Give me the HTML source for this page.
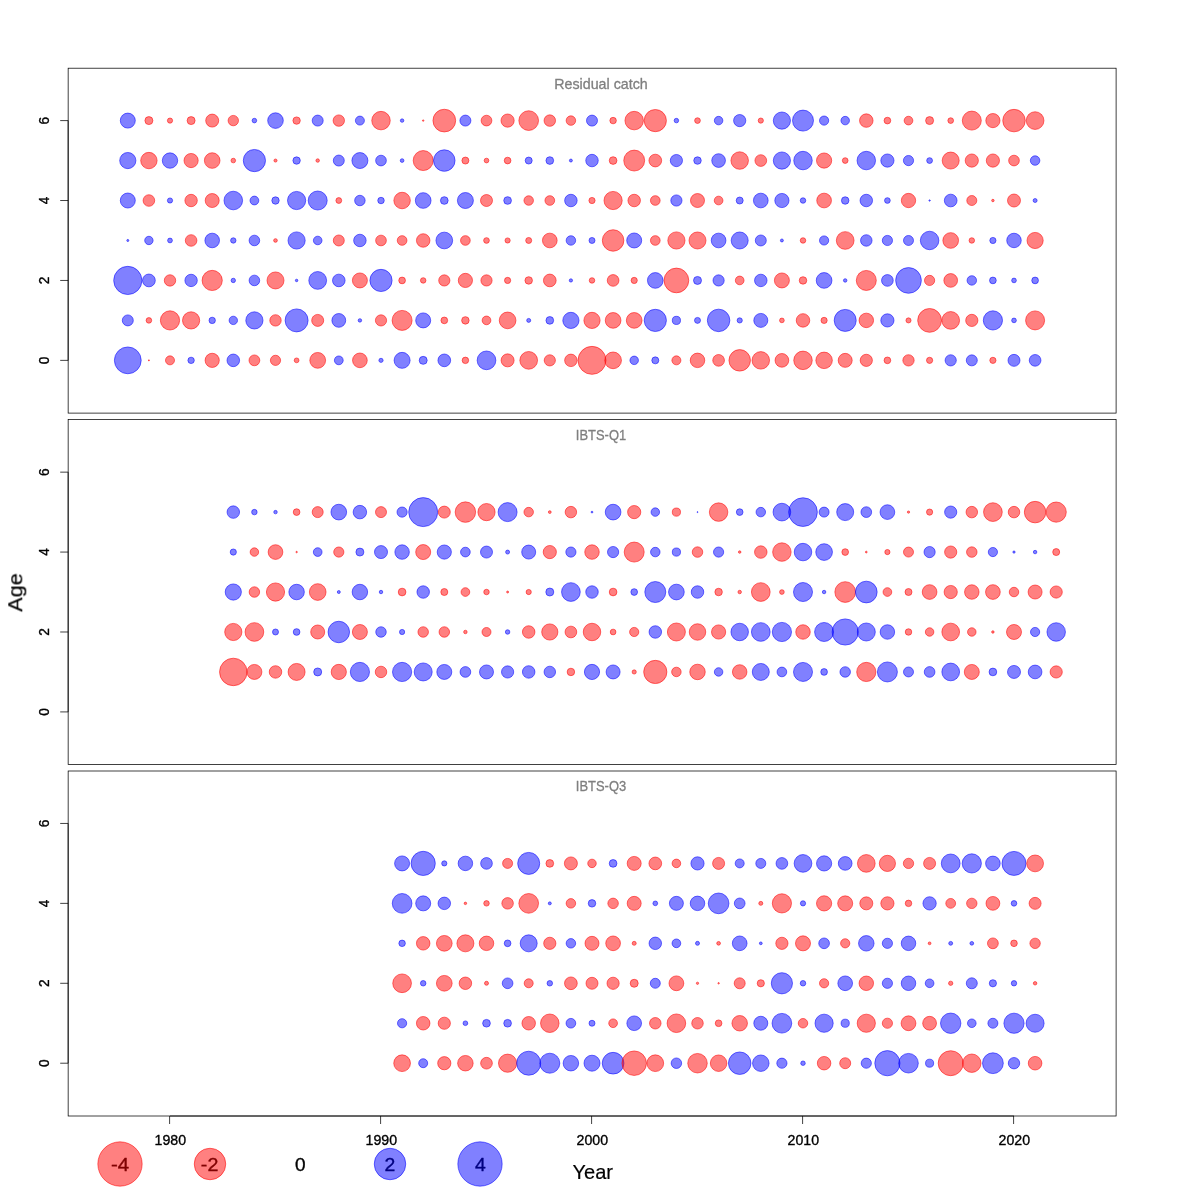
<!DOCTYPE html>
<html><head><meta charset="utf-8"><title>Residuals</title>
<style>
html,body{margin:0;padding:0;background:#fff;}
svg{display:block;}
text{font-family:"Liberation Sans",sans-serif;stroke-linejoin:round;}
.t{stroke:#000;stroke-width:0.35;}
.r{fill:rgba(255,0,0,0.5);stroke:rgba(255,0,0,0.55);stroke-width:1;}
.b{fill:rgba(0,0,255,0.5);stroke:rgba(0,0,255,0.55);stroke-width:1;}
.l{stroke:#000;stroke-width:0.75;fill:none;}
</style></head><body>
<svg width="1200" height="1200" viewBox="0 0 1200 1200">
<rect width="1200" height="1200" fill="#fff"/>
<g opacity="0.999">
<g>
<rect class="l" x="68.15" y="68.2" width="1047.95" height="344.90"/>
<line class="l" x1="68.15" y1="120.60" x2="68.15" y2="360.36"/>
<line class="l" x1="60.2" y1="360.36" x2="68.15" y2="360.36"/>
<text transform="translate(49.2,360.36) rotate(-90)" class="t" text-anchor="middle" font-size="14.1" fill="#000" textLength="7.6" lengthAdjust="spacingAndGlyphs">0</text>
<line class="l" x1="60.2" y1="280.44" x2="68.15" y2="280.44"/>
<text transform="translate(49.2,280.44) rotate(-90)" class="t" text-anchor="middle" font-size="14.1" fill="#000" textLength="7.6" lengthAdjust="spacingAndGlyphs">2</text>
<line class="l" x1="60.2" y1="200.52" x2="68.15" y2="200.52"/>
<text transform="translate(49.2,200.52) rotate(-90)" class="t" text-anchor="middle" font-size="14.1" fill="#000" textLength="7.6" lengthAdjust="spacingAndGlyphs">4</text>
<line class="l" x1="60.2" y1="120.60" x2="68.15" y2="120.60"/>
<text transform="translate(49.2,120.60) rotate(-90)" class="t" text-anchor="middle" font-size="14.1" fill="#000" textLength="7.6" lengthAdjust="spacingAndGlyphs">6</text>
<text x="601" y="89.0" text-anchor="middle" font-size="14.3" fill="#7f7f7f" stroke="#7f7f7f" stroke-width="0.3" textLength="93.5" lengthAdjust="spacingAndGlyphs">Residual catch</text>
<circle class="b" cx="127.8" cy="120.60" r="7.50"/><circle class="r" cx="148.9" cy="120.60" r="4.00"/><circle class="r" cx="170.0" cy="120.60" r="2.60"/><circle class="r" cx="191.1" cy="120.60" r="4.00"/><circle class="r" cx="212.2" cy="120.60" r="6.50"/><circle class="r" cx="233.3" cy="120.60" r="5.20"/><circle class="b" cx="254.4" cy="120.60" r="2.30"/><circle class="b" cx="275.5" cy="120.60" r="7.80"/><circle class="r" cx="296.6" cy="120.60" r="3.70"/><circle class="b" cx="317.7" cy="120.60" r="5.50"/><circle class="r" cx="338.8" cy="120.60" r="5.70"/><circle class="b" cx="359.9" cy="120.60" r="4.50"/><circle class="r" cx="381.0" cy="120.60" r="9.25"/><circle class="b" cx="402.1" cy="120.60" r="1.75"/><circle class="r" cx="423.2" cy="120.60" r="0.75"/><circle class="r" cx="444.3" cy="120.60" r="11.35"/><circle class="b" cx="465.4" cy="120.60" r="5.50"/><circle class="r" cx="486.5" cy="120.60" r="5.35"/><circle class="r" cx="507.6" cy="120.60" r="6.60"/><circle class="r" cx="528.7" cy="120.60" r="9.85"/><circle class="r" cx="549.8" cy="120.60" r="5.75"/><circle class="r" cx="570.9" cy="120.60" r="4.75"/><circle class="b" cx="592.0" cy="120.60" r="5.50"/><circle class="r" cx="613.1" cy="120.60" r="3.25"/><circle class="r" cx="634.2" cy="120.60" r="9.25"/><circle class="r" cx="655.3" cy="120.60" r="11.10"/><circle class="b" cx="676.4" cy="120.60" r="2.25"/><circle class="r" cx="697.5" cy="120.60" r="2.85"/><circle class="b" cx="718.6" cy="120.60" r="4.25"/><circle class="b" cx="739.7" cy="120.60" r="6.10"/><circle class="r" cx="760.8" cy="120.60" r="2.60"/><circle class="b" cx="781.9" cy="120.60" r="8.60"/><circle class="b" cx="803.0" cy="120.60" r="10.50"/><circle class="b" cx="824.1" cy="120.60" r="4.60"/><circle class="b" cx="845.2" cy="120.60" r="4.25"/><circle class="r" cx="866.3" cy="120.60" r="6.75"/><circle class="r" cx="887.4" cy="120.60" r="3.35"/><circle class="r" cx="908.5" cy="120.60" r="4.35"/><circle class="r" cx="929.6" cy="120.60" r="4.00"/><circle class="r" cx="950.7" cy="120.60" r="2.85"/><circle class="r" cx="971.8" cy="120.60" r="9.50"/><circle class="r" cx="992.9" cy="120.60" r="7.10"/><circle class="r" cx="1014.0" cy="120.60" r="11.25"/><circle class="r" cx="1035.1" cy="120.60" r="8.85"/>
<circle class="b" cx="127.8" cy="160.56" r="8.10"/><circle class="r" cx="148.9" cy="160.56" r="8.20"/><circle class="b" cx="170.0" cy="160.56" r="7.70"/><circle class="r" cx="191.1" cy="160.56" r="7.10"/><circle class="r" cx="212.2" cy="160.56" r="7.80"/><circle class="r" cx="233.3" cy="160.56" r="2.30"/><circle class="b" cx="254.4" cy="160.56" r="11.10"/><circle class="r" cx="275.5" cy="160.56" r="1.55"/><circle class="b" cx="296.6" cy="160.56" r="3.70"/><circle class="r" cx="317.7" cy="160.56" r="1.75"/><circle class="b" cx="338.8" cy="160.56" r="5.50"/><circle class="b" cx="359.9" cy="160.56" r="8.00"/><circle class="b" cx="381.0" cy="160.56" r="5.35"/><circle class="b" cx="402.1" cy="160.56" r="1.85"/><circle class="r" cx="423.2" cy="160.56" r="10.00"/><circle class="b" cx="444.3" cy="160.56" r="10.75"/><circle class="r" cx="465.4" cy="160.56" r="3.50"/><circle class="r" cx="486.5" cy="160.56" r="2.35"/><circle class="r" cx="507.6" cy="160.56" r="3.35"/><circle class="b" cx="528.7" cy="160.56" r="3.50"/><circle class="b" cx="549.8" cy="160.56" r="3.85"/><circle class="b" cx="570.9" cy="160.56" r="1.50"/><circle class="b" cx="592.0" cy="160.56" r="6.25"/><circle class="r" cx="613.1" cy="160.56" r="3.85"/><circle class="r" cx="634.2" cy="160.56" r="10.45"/><circle class="r" cx="655.3" cy="160.56" r="6.35"/><circle class="b" cx="676.4" cy="160.56" r="6.10"/><circle class="b" cx="697.5" cy="160.56" r="3.75"/><circle class="b" cx="718.6" cy="160.56" r="6.85"/><circle class="r" cx="739.7" cy="160.56" r="8.75"/><circle class="r" cx="760.8" cy="160.56" r="5.85"/><circle class="b" cx="781.9" cy="160.56" r="8.60"/><circle class="b" cx="803.0" cy="160.56" r="9.25"/><circle class="r" cx="824.1" cy="160.56" r="7.60"/><circle class="r" cx="845.2" cy="160.56" r="2.85"/><circle class="b" cx="866.3" cy="160.56" r="9.25"/><circle class="b" cx="887.4" cy="160.56" r="6.60"/><circle class="b" cx="908.5" cy="160.56" r="5.10"/><circle class="b" cx="929.6" cy="160.56" r="2.90"/><circle class="r" cx="950.7" cy="160.56" r="8.50"/><circle class="r" cx="971.8" cy="160.56" r="6.60"/><circle class="r" cx="992.9" cy="160.56" r="6.60"/><circle class="r" cx="1014.0" cy="160.56" r="5.35"/><circle class="b" cx="1035.1" cy="160.56" r="4.75"/>
<circle class="b" cx="127.8" cy="200.52" r="7.50"/><circle class="r" cx="148.9" cy="200.52" r="5.80"/><circle class="b" cx="170.0" cy="200.52" r="2.60"/><circle class="r" cx="191.1" cy="200.52" r="6.20"/><circle class="r" cx="212.2" cy="200.52" r="7.00"/><circle class="b" cx="233.3" cy="200.52" r="9.30"/><circle class="b" cx="254.4" cy="200.52" r="4.40"/><circle class="b" cx="275.5" cy="200.52" r="3.70"/><circle class="b" cx="296.6" cy="200.52" r="9.10"/><circle class="b" cx="317.7" cy="200.52" r="9.50"/><circle class="r" cx="338.8" cy="200.52" r="2.90"/><circle class="b" cx="359.9" cy="200.52" r="5.25"/><circle class="b" cx="381.0" cy="200.52" r="3.25"/><circle class="r" cx="402.1" cy="200.52" r="8.25"/><circle class="b" cx="423.2" cy="200.52" r="7.85"/><circle class="b" cx="444.3" cy="200.52" r="3.85"/><circle class="b" cx="465.4" cy="200.52" r="8.00"/><circle class="r" cx="486.5" cy="200.52" r="6.00"/><circle class="b" cx="507.6" cy="200.52" r="3.85"/><circle class="r" cx="528.7" cy="200.52" r="4.75"/><circle class="r" cx="549.8" cy="200.52" r="4.85"/><circle class="b" cx="570.9" cy="200.52" r="6.25"/><circle class="r" cx="592.0" cy="200.52" r="3.10"/><circle class="r" cx="613.1" cy="200.52" r="9.10"/><circle class="r" cx="634.2" cy="200.52" r="6.25"/><circle class="r" cx="655.3" cy="200.52" r="4.85"/><circle class="b" cx="676.4" cy="200.52" r="5.60"/><circle class="r" cx="697.5" cy="200.52" r="7.00"/><circle class="r" cx="718.6" cy="200.52" r="4.35"/><circle class="b" cx="739.7" cy="200.52" r="3.50"/><circle class="b" cx="760.8" cy="200.52" r="7.35"/><circle class="b" cx="781.9" cy="200.52" r="7.10"/><circle class="b" cx="803.0" cy="200.52" r="2.75"/><circle class="r" cx="824.1" cy="200.52" r="7.35"/><circle class="b" cx="845.2" cy="200.52" r="3.75"/><circle class="b" cx="866.3" cy="200.52" r="6.25"/><circle class="b" cx="887.4" cy="200.52" r="2.85"/><circle class="r" cx="908.5" cy="200.52" r="7.15"/><circle class="b" cx="929.6" cy="200.52" r="0.70"/><circle class="b" cx="950.7" cy="200.52" r="6.35"/><circle class="r" cx="971.8" cy="200.52" r="5.00"/><circle class="r" cx="992.9" cy="200.52" r="1.25"/><circle class="r" cx="1014.0" cy="200.52" r="6.50"/><circle class="b" cx="1035.1" cy="200.52" r="2.00"/>
<circle class="b" cx="127.8" cy="240.48" r="1.05"/><circle class="b" cx="148.9" cy="240.48" r="4.20"/><circle class="b" cx="170.0" cy="240.48" r="2.40"/><circle class="r" cx="191.1" cy="240.48" r="5.80"/><circle class="b" cx="212.2" cy="240.48" r="7.30"/><circle class="b" cx="233.3" cy="240.48" r="2.70"/><circle class="b" cx="254.4" cy="240.48" r="5.30"/><circle class="r" cx="275.5" cy="240.48" r="1.85"/><circle class="b" cx="296.6" cy="240.48" r="8.60"/><circle class="b" cx="317.7" cy="240.48" r="4.30"/><circle class="r" cx="338.8" cy="240.48" r="5.50"/><circle class="b" cx="359.9" cy="240.48" r="6.25"/><circle class="r" cx="381.0" cy="240.48" r="5.35"/><circle class="r" cx="402.1" cy="240.48" r="4.85"/><circle class="r" cx="423.2" cy="240.48" r="6.75"/><circle class="b" cx="444.3" cy="240.48" r="8.35"/><circle class="r" cx="465.4" cy="240.48" r="4.85"/><circle class="r" cx="486.5" cy="240.48" r="2.85"/><circle class="r" cx="507.6" cy="240.48" r="2.60"/><circle class="r" cx="528.7" cy="240.48" r="3.00"/><circle class="r" cx="549.8" cy="240.48" r="7.35"/><circle class="b" cx="570.9" cy="240.48" r="4.75"/><circle class="b" cx="592.0" cy="240.48" r="3.00"/><circle class="r" cx="613.1" cy="240.48" r="10.75"/><circle class="b" cx="634.2" cy="240.48" r="7.50"/><circle class="r" cx="655.3" cy="240.48" r="4.85"/><circle class="r" cx="676.4" cy="240.48" r="8.60"/><circle class="r" cx="697.5" cy="240.48" r="8.50"/><circle class="b" cx="718.6" cy="240.48" r="7.35"/><circle class="b" cx="739.7" cy="240.48" r="8.50"/><circle class="b" cx="760.8" cy="240.48" r="5.50"/><circle class="b" cx="781.9" cy="240.48" r="1.50"/><circle class="r" cx="803.0" cy="240.48" r="2.75"/><circle class="b" cx="824.1" cy="240.48" r="4.60"/><circle class="r" cx="845.2" cy="240.48" r="8.85"/><circle class="b" cx="866.3" cy="240.48" r="5.75"/><circle class="b" cx="887.4" cy="240.48" r="5.10"/><circle class="b" cx="908.5" cy="240.48" r="5.00"/><circle class="b" cx="929.6" cy="240.48" r="9.25"/><circle class="r" cx="950.7" cy="240.48" r="7.85"/><circle class="r" cx="971.8" cy="240.48" r="2.75"/><circle class="b" cx="992.9" cy="240.48" r="3.10"/><circle class="b" cx="1014.0" cy="240.48" r="7.25"/><circle class="r" cx="1035.1" cy="240.48" r="8.10"/>
<circle class="b" cx="127.8" cy="280.44" r="14.10"/><circle class="b" cx="148.9" cy="280.44" r="6.40"/><circle class="r" cx="170.0" cy="280.44" r="5.70"/><circle class="b" cx="191.1" cy="280.44" r="6.20"/><circle class="r" cx="212.2" cy="280.44" r="10.10"/><circle class="b" cx="233.3" cy="280.44" r="2.20"/><circle class="b" cx="254.4" cy="280.44" r="5.30"/><circle class="r" cx="275.5" cy="280.44" r="8.50"/><circle class="b" cx="296.6" cy="280.44" r="1.25"/><circle class="b" cx="317.7" cy="280.44" r="8.90"/><circle class="b" cx="338.8" cy="280.44" r="6.30"/><circle class="r" cx="359.9" cy="280.44" r="7.50"/><circle class="b" cx="381.0" cy="280.44" r="11.10"/><circle class="r" cx="402.1" cy="280.44" r="3.35"/><circle class="r" cx="423.2" cy="280.44" r="2.75"/><circle class="r" cx="444.3" cy="280.44" r="5.60"/><circle class="r" cx="465.4" cy="280.44" r="7.10"/><circle class="r" cx="486.5" cy="280.44" r="5.60"/><circle class="r" cx="507.6" cy="280.44" r="3.10"/><circle class="r" cx="528.7" cy="280.44" r="3.75"/><circle class="r" cx="549.8" cy="280.44" r="6.35"/><circle class="b" cx="570.9" cy="280.44" r="1.65"/><circle class="r" cx="592.0" cy="280.44" r="2.75"/><circle class="r" cx="613.1" cy="280.44" r="5.85"/><circle class="r" cx="634.2" cy="280.44" r="3.10"/><circle class="b" cx="655.3" cy="280.44" r="7.85"/><circle class="r" cx="676.4" cy="280.44" r="12.35"/><circle class="b" cx="697.5" cy="280.44" r="4.00"/><circle class="b" cx="718.6" cy="280.44" r="5.60"/><circle class="r" cx="739.7" cy="280.44" r="4.35"/><circle class="b" cx="760.8" cy="280.44" r="6.25"/><circle class="r" cx="781.9" cy="280.44" r="7.50"/><circle class="r" cx="803.0" cy="280.44" r="3.75"/><circle class="b" cx="824.1" cy="280.44" r="7.85"/><circle class="b" cx="845.2" cy="280.44" r="1.75"/><circle class="r" cx="866.3" cy="280.44" r="10.00"/><circle class="b" cx="887.4" cy="280.44" r="5.85"/><circle class="b" cx="908.5" cy="280.44" r="12.85"/><circle class="r" cx="929.6" cy="280.44" r="5.10"/><circle class="r" cx="950.7" cy="280.44" r="6.85"/><circle class="b" cx="971.8" cy="280.44" r="4.75"/><circle class="b" cx="992.9" cy="280.44" r="3.35"/><circle class="b" cx="1014.0" cy="280.44" r="2.35"/><circle class="b" cx="1035.1" cy="280.44" r="3.35"/>
<circle class="b" cx="127.8" cy="320.40" r="5.50"/><circle class="r" cx="148.9" cy="320.40" r="2.80"/><circle class="r" cx="170.0" cy="320.40" r="9.60"/><circle class="r" cx="191.1" cy="320.40" r="8.60"/><circle class="b" cx="212.2" cy="320.40" r="3.20"/><circle class="b" cx="233.3" cy="320.40" r="4.20"/><circle class="b" cx="254.4" cy="320.40" r="8.60"/><circle class="r" cx="275.5" cy="320.40" r="5.70"/><circle class="b" cx="296.6" cy="320.40" r="11.50"/><circle class="r" cx="317.7" cy="320.40" r="6.00"/><circle class="b" cx="338.8" cy="320.40" r="6.90"/><circle class="b" cx="359.9" cy="320.40" r="1.75"/><circle class="r" cx="381.0" cy="320.40" r="5.60"/><circle class="r" cx="402.1" cy="320.40" r="10.00"/><circle class="b" cx="423.2" cy="320.40" r="7.50"/><circle class="r" cx="444.3" cy="320.40" r="3.35"/><circle class="r" cx="465.4" cy="320.40" r="3.75"/><circle class="r" cx="486.5" cy="320.40" r="4.35"/><circle class="r" cx="507.6" cy="320.40" r="8.35"/><circle class="b" cx="528.7" cy="320.40" r="2.00"/><circle class="b" cx="549.8" cy="320.40" r="3.85"/><circle class="b" cx="570.9" cy="320.40" r="8.10"/><circle class="r" cx="592.0" cy="320.40" r="8.10"/><circle class="r" cx="613.1" cy="320.40" r="7.85"/><circle class="r" cx="634.2" cy="320.40" r="7.85"/><circle class="b" cx="655.3" cy="320.40" r="11.10"/><circle class="b" cx="676.4" cy="320.40" r="4.10"/><circle class="b" cx="697.5" cy="320.40" r="3.00"/><circle class="b" cx="718.6" cy="320.40" r="11.25"/><circle class="b" cx="739.7" cy="320.40" r="2.60"/><circle class="b" cx="760.8" cy="320.40" r="7.00"/><circle class="r" cx="781.9" cy="320.40" r="2.35"/><circle class="r" cx="803.0" cy="320.40" r="6.75"/><circle class="r" cx="824.1" cy="320.40" r="3.10"/><circle class="b" cx="845.2" cy="320.40" r="11.00"/><circle class="r" cx="866.3" cy="320.40" r="7.25"/><circle class="b" cx="887.4" cy="320.40" r="6.60"/><circle class="r" cx="908.5" cy="320.40" r="2.55"/><circle class="r" cx="929.6" cy="320.40" r="11.90"/><circle class="r" cx="950.7" cy="320.40" r="8.85"/><circle class="r" cx="971.8" cy="320.40" r="6.10"/><circle class="b" cx="992.9" cy="320.40" r="9.60"/><circle class="b" cx="1014.0" cy="320.40" r="2.35"/><circle class="r" cx="1035.1" cy="320.40" r="9.50"/>
<circle class="b" cx="127.8" cy="360.36" r="13.40"/><circle style="fill:rgba(255,0,0,0.8)" cx="148.9" cy="360.36" r="0.90"/><circle class="r" cx="170.0" cy="360.36" r="4.50"/><circle class="b" cx="191.1" cy="360.36" r="3.20"/><circle class="r" cx="212.2" cy="360.36" r="7.10"/><circle class="b" cx="233.3" cy="360.36" r="6.30"/><circle class="r" cx="254.4" cy="360.36" r="5.40"/><circle class="r" cx="275.5" cy="360.36" r="5.10"/><circle class="r" cx="296.6" cy="360.36" r="2.40"/><circle class="r" cx="317.7" cy="360.36" r="7.90"/><circle class="b" cx="338.8" cy="360.36" r="4.40"/><circle class="r" cx="359.9" cy="360.36" r="7.35"/><circle class="b" cx="381.0" cy="360.36" r="2.10"/><circle class="b" cx="402.1" cy="360.36" r="8.00"/><circle class="b" cx="423.2" cy="360.36" r="4.00"/><circle class="b" cx="444.3" cy="360.36" r="6.35"/><circle class="r" cx="465.4" cy="360.36" r="3.25"/><circle class="b" cx="486.5" cy="360.36" r="9.35"/><circle class="r" cx="507.6" cy="360.36" r="6.50"/><circle class="r" cx="528.7" cy="360.36" r="8.85"/><circle class="r" cx="549.8" cy="360.36" r="5.60"/><circle class="r" cx="570.9" cy="360.36" r="6.25"/><circle class="r" cx="592.0" cy="360.36" r="14.00"/><circle class="r" cx="613.1" cy="360.36" r="8.35"/><circle class="b" cx="634.2" cy="360.36" r="4.25"/><circle class="b" cx="655.3" cy="360.36" r="3.50"/><circle class="r" cx="676.4" cy="360.36" r="4.50"/><circle class="r" cx="697.5" cy="360.36" r="7.25"/><circle class="r" cx="718.6" cy="360.36" r="5.85"/><circle class="r" cx="739.7" cy="360.36" r="10.75"/><circle class="r" cx="760.8" cy="360.36" r="8.75"/><circle class="r" cx="781.9" cy="360.36" r="6.85"/><circle class="r" cx="803.0" cy="360.36" r="9.25"/><circle class="r" cx="824.1" cy="360.36" r="8.25"/><circle class="r" cx="845.2" cy="360.36" r="7.00"/><circle class="r" cx="866.3" cy="360.36" r="6.10"/><circle class="r" cx="887.4" cy="360.36" r="3.35"/><circle class="r" cx="908.5" cy="360.36" r="5.65"/><circle class="r" cx="929.6" cy="360.36" r="3.10"/><circle class="b" cx="950.7" cy="360.36" r="5.60"/><circle class="b" cx="971.8" cy="360.36" r="5.50"/><circle class="r" cx="992.9" cy="360.36" r="3.10"/><circle class="b" cx="1014.0" cy="360.36" r="6.00"/><circle class="b" cx="1035.1" cy="360.36" r="5.85"/>
</g>
<g>
<rect class="l" x="68.15" y="419.5" width="1047.95" height="344.90"/>
<line class="l" x1="68.15" y1="472.15" x2="68.15" y2="711.91"/>
<line class="l" x1="60.2" y1="711.91" x2="68.15" y2="711.91"/>
<text transform="translate(49.2,711.91) rotate(-90)" class="t" text-anchor="middle" font-size="14.1" fill="#000" textLength="7.6" lengthAdjust="spacingAndGlyphs">0</text>
<line class="l" x1="60.2" y1="631.99" x2="68.15" y2="631.99"/>
<text transform="translate(49.2,631.99) rotate(-90)" class="t" text-anchor="middle" font-size="14.1" fill="#000" textLength="7.6" lengthAdjust="spacingAndGlyphs">2</text>
<line class="l" x1="60.2" y1="552.07" x2="68.15" y2="552.07"/>
<text transform="translate(49.2,552.07) rotate(-90)" class="t" text-anchor="middle" font-size="14.1" fill="#000" textLength="7.6" lengthAdjust="spacingAndGlyphs">4</text>
<line class="l" x1="60.2" y1="472.15" x2="68.15" y2="472.15"/>
<text transform="translate(49.2,472.15) rotate(-90)" class="t" text-anchor="middle" font-size="14.1" fill="#000" textLength="7.6" lengthAdjust="spacingAndGlyphs">6</text>
<text x="601" y="439.8" text-anchor="middle" font-size="14.3" fill="#7f7f7f" stroke="#7f7f7f" stroke-width="0.3" textLength="50.3" lengthAdjust="spacingAndGlyphs">IBTS-Q1</text>
<circle class="b" cx="233.3" cy="512.11" r="6.25"/><circle class="b" cx="254.4" cy="512.11" r="2.75"/><circle class="b" cx="275.5" cy="512.11" r="1.75"/><circle class="r" cx="296.6" cy="512.11" r="3.35"/><circle class="r" cx="317.7" cy="512.11" r="5.50"/><circle class="b" cx="338.8" cy="512.11" r="7.85"/><circle class="b" cx="359.9" cy="512.11" r="6.75"/><circle class="r" cx="381.0" cy="512.11" r="5.50"/><circle class="b" cx="402.1" cy="512.11" r="5.10"/><circle class="b" cx="423.2" cy="512.11" r="14.50"/><circle class="r" cx="444.3" cy="512.11" r="6.00"/><circle class="r" cx="465.4" cy="512.11" r="10.25"/><circle class="r" cx="486.5" cy="512.11" r="8.60"/><circle class="b" cx="507.6" cy="512.11" r="9.50"/><circle class="r" cx="528.7" cy="512.11" r="4.75"/><circle class="r" cx="549.8" cy="512.11" r="1.40"/><circle class="r" cx="570.9" cy="512.11" r="5.75"/><circle class="b" cx="592.0" cy="512.11" r="0.90"/><circle class="b" cx="613.1" cy="512.11" r="7.85"/><circle class="r" cx="634.2" cy="512.11" r="6.60"/><circle class="b" cx="655.3" cy="512.11" r="4.25"/><circle class="r" cx="676.4" cy="512.11" r="4.10"/><circle class="b" cx="697.5" cy="512.11" r="0.50"/><circle class="r" cx="718.6" cy="512.11" r="9.25"/><circle class="b" cx="739.7" cy="512.11" r="3.35"/><circle class="b" cx="760.8" cy="512.11" r="4.75"/><circle class="b" cx="781.9" cy="512.11" r="8.85"/><circle class="b" cx="803.0" cy="512.11" r="14.35"/><circle class="b" cx="824.1" cy="512.11" r="5.00"/><circle class="b" cx="845.2" cy="512.11" r="8.50"/><circle class="b" cx="866.3" cy="512.11" r="5.35"/><circle class="b" cx="887.4" cy="512.11" r="7.35"/><circle class="r" cx="908.5" cy="512.11" r="1.15"/><circle class="r" cx="929.6" cy="512.11" r="3.10"/><circle class="b" cx="950.7" cy="512.11" r="6.10"/><circle class="r" cx="971.8" cy="512.11" r="5.75"/><circle class="r" cx="992.9" cy="512.11" r="9.35"/><circle class="r" cx="1014.0" cy="512.11" r="5.75"/><circle class="r" cx="1035.1" cy="512.11" r="10.75"/><circle class="r" cx="1056.2" cy="512.11" r="10.10"/>
<circle class="b" cx="233.3" cy="552.07" r="3.10"/><circle class="r" cx="254.4" cy="552.07" r="4.25"/><circle class="r" cx="275.5" cy="552.07" r="7.35"/><circle class="r" cx="296.6" cy="552.07" r="0.75"/><circle class="b" cx="317.7" cy="552.07" r="4.35"/><circle class="r" cx="338.8" cy="552.07" r="5.10"/><circle class="b" cx="359.9" cy="552.07" r="4.00"/><circle class="b" cx="381.0" cy="552.07" r="6.50"/><circle class="b" cx="402.1" cy="552.07" r="7.25"/><circle class="r" cx="423.2" cy="552.07" r="7.50"/><circle class="b" cx="444.3" cy="552.07" r="7.10"/><circle class="b" cx="465.4" cy="552.07" r="4.85"/><circle class="b" cx="486.5" cy="552.07" r="6.00"/><circle class="b" cx="507.6" cy="552.07" r="2.00"/><circle class="b" cx="528.7" cy="552.07" r="7.00"/><circle class="r" cx="549.8" cy="552.07" r="6.60"/><circle class="b" cx="570.9" cy="552.07" r="5.10"/><circle class="r" cx="592.0" cy="552.07" r="7.25"/><circle class="b" cx="613.1" cy="552.07" r="5.60"/><circle class="r" cx="634.2" cy="552.07" r="10.00"/><circle class="b" cx="655.3" cy="552.07" r="4.75"/><circle class="b" cx="676.4" cy="552.07" r="4.10"/><circle class="r" cx="697.5" cy="552.07" r="5.25"/><circle class="b" cx="718.6" cy="552.07" r="5.10"/><circle class="r" cx="739.7" cy="552.07" r="1.25"/><circle class="r" cx="760.8" cy="552.07" r="6.25"/><circle class="r" cx="781.9" cy="552.07" r="9.25"/><circle class="b" cx="803.0" cy="552.07" r="8.75"/><circle class="b" cx="824.1" cy="552.07" r="8.35"/><circle class="r" cx="845.2" cy="552.07" r="3.35"/><circle class="r" cx="866.3" cy="552.07" r="0.90"/><circle class="r" cx="887.4" cy="552.07" r="2.60"/><circle class="r" cx="908.5" cy="552.07" r="5.00"/><circle class="b" cx="929.6" cy="552.07" r="5.60"/><circle class="r" cx="950.7" cy="552.07" r="6.10"/><circle class="r" cx="971.8" cy="552.07" r="5.25"/><circle class="b" cx="992.9" cy="552.07" r="4.60"/><circle class="b" cx="1014.0" cy="552.07" r="1.15"/><circle class="b" cx="1035.1" cy="552.07" r="1.75"/><circle class="r" cx="1056.2" cy="552.07" r="3.50"/>
<circle class="b" cx="233.3" cy="592.03" r="8.10"/><circle class="r" cx="254.4" cy="592.03" r="5.25"/><circle class="r" cx="275.5" cy="592.03" r="9.10"/><circle class="b" cx="296.6" cy="592.03" r="7.75"/><circle class="r" cx="317.7" cy="592.03" r="8.35"/><circle class="b" cx="338.8" cy="592.03" r="1.50"/><circle class="b" cx="359.9" cy="592.03" r="7.75"/><circle class="b" cx="381.0" cy="592.03" r="1.75"/><circle class="r" cx="402.1" cy="592.03" r="3.85"/><circle class="b" cx="423.2" cy="592.03" r="6.25"/><circle class="r" cx="444.3" cy="592.03" r="3.50"/><circle class="r" cx="465.4" cy="592.03" r="4.35"/><circle class="r" cx="486.5" cy="592.03" r="2.75"/><circle class="r" cx="507.6" cy="592.03" r="1.00"/><circle class="r" cx="528.7" cy="592.03" r="2.60"/><circle class="b" cx="549.8" cy="592.03" r="4.00"/><circle class="b" cx="570.9" cy="592.03" r="9.35"/><circle class="b" cx="592.0" cy="592.03" r="6.25"/><circle class="r" cx="613.1" cy="592.03" r="3.85"/><circle class="b" cx="634.2" cy="592.03" r="3.35"/><circle class="b" cx="655.3" cy="592.03" r="10.50"/><circle class="b" cx="676.4" cy="592.03" r="7.85"/><circle class="b" cx="697.5" cy="592.03" r="6.25"/><circle class="r" cx="718.6" cy="592.03" r="3.75"/><circle class="r" cx="739.7" cy="592.03" r="1.75"/><circle class="r" cx="760.8" cy="592.03" r="9.35"/><circle class="r" cx="781.9" cy="592.03" r="2.35"/><circle class="b" cx="803.0" cy="592.03" r="9.50"/><circle class="b" cx="824.1" cy="592.03" r="1.75"/><circle class="r" cx="845.2" cy="592.03" r="10.35"/><circle class="b" cx="866.3" cy="592.03" r="10.85"/><circle class="r" cx="887.4" cy="592.03" r="4.35"/><circle class="r" cx="908.5" cy="592.03" r="3.50"/><circle class="r" cx="929.6" cy="592.03" r="7.35"/><circle class="r" cx="950.7" cy="592.03" r="6.60"/><circle class="r" cx="971.8" cy="592.03" r="7.25"/><circle class="r" cx="992.9" cy="592.03" r="7.35"/><circle class="r" cx="1014.0" cy="592.03" r="4.75"/><circle class="r" cx="1035.1" cy="592.03" r="7.00"/><circle class="r" cx="1056.2" cy="592.03" r="6.10"/>
<circle class="r" cx="233.3" cy="631.99" r="8.60"/><circle class="r" cx="254.4" cy="631.99" r="9.35"/><circle class="b" cx="275.5" cy="631.99" r="3.00"/><circle class="b" cx="296.6" cy="631.99" r="3.35"/><circle class="r" cx="317.7" cy="631.99" r="7.00"/><circle class="b" cx="338.8" cy="631.99" r="10.75"/><circle class="r" cx="359.9" cy="631.99" r="7.50"/><circle class="b" cx="381.0" cy="631.99" r="5.25"/><circle class="b" cx="402.1" cy="631.99" r="2.60"/><circle class="r" cx="423.2" cy="631.99" r="5.25"/><circle class="r" cx="444.3" cy="631.99" r="5.25"/><circle class="r" cx="465.4" cy="631.99" r="1.75"/><circle class="r" cx="486.5" cy="631.99" r="4.50"/><circle class="b" cx="507.6" cy="631.99" r="2.25"/><circle class="r" cx="528.7" cy="631.99" r="6.25"/><circle class="r" cx="549.8" cy="631.99" r="8.10"/><circle class="r" cx="570.9" cy="631.99" r="5.85"/><circle class="r" cx="592.0" cy="631.99" r="8.75"/><circle class="r" cx="613.1" cy="631.99" r="2.85"/><circle class="r" cx="634.2" cy="631.99" r="4.60"/><circle class="b" cx="655.3" cy="631.99" r="6.25"/><circle class="r" cx="676.4" cy="631.99" r="9.00"/><circle class="r" cx="697.5" cy="631.99" r="8.25"/><circle class="r" cx="718.6" cy="631.99" r="7.10"/><circle class="b" cx="739.7" cy="631.99" r="8.75"/><circle class="b" cx="760.8" cy="631.99" r="9.35"/><circle class="b" cx="781.9" cy="631.99" r="9.60"/><circle class="r" cx="803.0" cy="631.99" r="7.25"/><circle class="b" cx="824.1" cy="631.99" r="9.50"/><circle class="b" cx="845.2" cy="631.99" r="13.10"/><circle class="b" cx="866.3" cy="631.99" r="9.00"/><circle class="b" cx="887.4" cy="631.99" r="7.25"/><circle class="r" cx="908.5" cy="631.99" r="3.25"/><circle class="r" cx="929.6" cy="631.99" r="4.25"/><circle class="r" cx="950.7" cy="631.99" r="8.85"/><circle class="r" cx="971.8" cy="631.99" r="4.25"/><circle class="r" cx="992.9" cy="631.99" r="1.25"/><circle class="r" cx="1014.0" cy="631.99" r="7.50"/><circle class="b" cx="1035.1" cy="631.99" r="4.60"/><circle class="b" cx="1056.2" cy="631.99" r="9.25"/>
<circle class="r" cx="233.3" cy="671.95" r="13.75"/><circle class="r" cx="254.4" cy="671.95" r="7.50"/><circle class="r" cx="275.5" cy="671.95" r="6.25"/><circle class="r" cx="296.6" cy="671.95" r="8.50"/><circle class="b" cx="317.7" cy="671.95" r="4.00"/><circle class="r" cx="338.8" cy="671.95" r="7.60"/><circle class="b" cx="359.9" cy="671.95" r="9.60"/><circle class="r" cx="381.0" cy="671.95" r="5.75"/><circle class="b" cx="402.1" cy="671.95" r="9.60"/><circle class="b" cx="423.2" cy="671.95" r="9.00"/><circle class="b" cx="444.3" cy="671.95" r="7.50"/><circle class="b" cx="465.4" cy="671.95" r="5.35"/><circle class="b" cx="486.5" cy="671.95" r="7.00"/><circle class="b" cx="507.6" cy="671.95" r="6.10"/><circle class="b" cx="528.7" cy="671.95" r="6.25"/><circle class="b" cx="549.8" cy="671.95" r="5.75"/><circle class="r" cx="570.9" cy="671.95" r="3.75"/><circle class="b" cx="592.0" cy="671.95" r="7.60"/><circle class="b" cx="613.1" cy="671.95" r="7.00"/><circle class="r" cx="634.2" cy="671.95" r="2.10"/><circle class="r" cx="655.3" cy="671.95" r="11.60"/><circle class="r" cx="676.4" cy="671.95" r="4.75"/><circle class="r" cx="697.5" cy="671.95" r="7.75"/><circle class="b" cx="718.6" cy="671.95" r="4.25"/><circle class="r" cx="739.7" cy="671.95" r="7.25"/><circle class="b" cx="760.8" cy="671.95" r="8.50"/><circle class="b" cx="781.9" cy="671.95" r="4.85"/><circle class="b" cx="803.0" cy="671.95" r="9.50"/><circle class="b" cx="824.1" cy="671.95" r="3.35"/><circle class="b" cx="845.2" cy="671.95" r="5.25"/><circle class="r" cx="866.3" cy="671.95" r="9.60"/><circle class="b" cx="887.4" cy="671.95" r="10.00"/><circle class="b" cx="908.5" cy="671.95" r="5.00"/><circle class="b" cx="929.6" cy="671.95" r="5.35"/><circle class="b" cx="950.7" cy="671.95" r="8.85"/><circle class="r" cx="971.8" cy="671.95" r="7.50"/><circle class="b" cx="992.9" cy="671.95" r="3.85"/><circle class="b" cx="1014.0" cy="671.95" r="6.50"/><circle class="b" cx="1035.1" cy="671.95" r="6.85"/><circle class="r" cx="1056.2" cy="671.95" r="6.10"/>
</g>
<g>
<rect class="l" x="68.15" y="771.0" width="1047.95" height="345.00"/>
<line class="l" x1="68.15" y1="823.45" x2="68.15" y2="1063.21"/>
<line class="l" x1="60.2" y1="1063.21" x2="68.15" y2="1063.21"/>
<text transform="translate(49.2,1063.21) rotate(-90)" class="t" text-anchor="middle" font-size="14.1" fill="#000" textLength="7.6" lengthAdjust="spacingAndGlyphs">0</text>
<line class="l" x1="60.2" y1="983.29" x2="68.15" y2="983.29"/>
<text transform="translate(49.2,983.29) rotate(-90)" class="t" text-anchor="middle" font-size="14.1" fill="#000" textLength="7.6" lengthAdjust="spacingAndGlyphs">2</text>
<line class="l" x1="60.2" y1="903.37" x2="68.15" y2="903.37"/>
<text transform="translate(49.2,903.37) rotate(-90)" class="t" text-anchor="middle" font-size="14.1" fill="#000" textLength="7.6" lengthAdjust="spacingAndGlyphs">4</text>
<line class="l" x1="60.2" y1="823.45" x2="68.15" y2="823.45"/>
<text transform="translate(49.2,823.45) rotate(-90)" class="t" text-anchor="middle" font-size="14.1" fill="#000" textLength="7.6" lengthAdjust="spacingAndGlyphs">6</text>
<text x="601" y="791.3" text-anchor="middle" font-size="14.3" fill="#7f7f7f" stroke="#7f7f7f" stroke-width="0.3" textLength="50.3" lengthAdjust="spacingAndGlyphs">IBTS-Q3</text>
<circle class="b" cx="402.1" cy="863.41" r="7.50"/><circle class="b" cx="423.2" cy="863.41" r="12.10"/><circle class="b" cx="444.3" cy="863.41" r="2.60"/><circle class="b" cx="465.4" cy="863.41" r="7.25"/><circle class="b" cx="486.5" cy="863.41" r="5.85"/><circle class="r" cx="507.6" cy="863.41" r="5.00"/><circle class="b" cx="528.7" cy="863.41" r="11.00"/><circle class="r" cx="549.8" cy="863.41" r="3.85"/><circle class="r" cx="570.9" cy="863.41" r="6.50"/><circle class="r" cx="592.0" cy="863.41" r="4.25"/><circle class="b" cx="613.1" cy="863.41" r="3.85"/><circle class="r" cx="634.2" cy="863.41" r="7.00"/><circle class="r" cx="655.3" cy="863.41" r="6.35"/><circle class="r" cx="676.4" cy="863.41" r="4.30"/><circle class="b" cx="697.5" cy="863.41" r="6.60"/><circle class="r" cx="718.6" cy="863.41" r="6.00"/><circle class="b" cx="739.7" cy="863.41" r="4.50"/><circle class="b" cx="760.8" cy="863.41" r="5.00"/><circle class="b" cx="781.9" cy="863.41" r="5.85"/><circle class="b" cx="803.0" cy="863.41" r="8.85"/><circle class="b" cx="824.1" cy="863.41" r="7.60"/><circle class="b" cx="845.2" cy="863.41" r="6.85"/><circle class="r" cx="866.3" cy="863.41" r="8.85"/><circle class="r" cx="887.4" cy="863.41" r="8.10"/><circle class="r" cx="908.5" cy="863.41" r="5.15"/><circle class="r" cx="929.6" cy="863.41" r="6.00"/><circle class="b" cx="950.7" cy="863.41" r="9.40"/><circle class="b" cx="971.8" cy="863.41" r="9.60"/><circle class="b" cx="992.9" cy="863.41" r="7.30"/><circle class="b" cx="1014.0" cy="863.41" r="12.00"/><circle class="r" cx="1035.1" cy="863.41" r="8.40"/>
<circle class="b" cx="402.1" cy="903.37" r="9.85"/><circle class="b" cx="423.2" cy="903.37" r="7.50"/><circle class="b" cx="444.3" cy="903.37" r="6.25"/><circle class="r" cx="465.4" cy="903.37" r="1.25"/><circle class="r" cx="486.5" cy="903.37" r="2.75"/><circle class="r" cx="507.6" cy="903.37" r="5.75"/><circle class="r" cx="528.7" cy="903.37" r="9.85"/><circle class="b" cx="549.8" cy="903.37" r="1.50"/><circle class="r" cx="570.9" cy="903.37" r="4.75"/><circle class="b" cx="592.0" cy="903.37" r="3.75"/><circle class="r" cx="613.1" cy="903.37" r="5.25"/><circle class="r" cx="634.2" cy="903.37" r="7.00"/><circle class="b" cx="655.3" cy="903.37" r="2.35"/><circle class="b" cx="676.4" cy="903.37" r="7.00"/><circle class="b" cx="697.5" cy="903.37" r="7.25"/><circle class="b" cx="718.6" cy="903.37" r="10.35"/><circle class="b" cx="739.7" cy="903.37" r="5.35"/><circle class="r" cx="760.8" cy="903.37" r="2.00"/><circle class="r" cx="781.9" cy="903.37" r="9.60"/><circle class="b" cx="803.0" cy="903.37" r="2.60"/><circle class="r" cx="824.1" cy="903.37" r="7.60"/><circle class="r" cx="845.2" cy="903.37" r="7.50"/><circle class="r" cx="866.3" cy="903.37" r="6.50"/><circle class="r" cx="887.4" cy="903.37" r="6.60"/><circle class="r" cx="908.5" cy="903.37" r="3.25"/><circle class="b" cx="929.6" cy="903.37" r="6.65"/><circle class="r" cx="950.7" cy="903.37" r="4.90"/><circle class="r" cx="971.8" cy="903.37" r="5.20"/><circle class="r" cx="992.9" cy="903.37" r="6.90"/><circle class="b" cx="1014.0" cy="903.37" r="2.80"/><circle class="r" cx="1035.1" cy="903.37" r="6.00"/>
<circle class="b" cx="402.1" cy="943.33" r="3.25"/><circle class="r" cx="423.2" cy="943.33" r="6.75"/><circle class="r" cx="444.3" cy="943.33" r="7.85"/><circle class="r" cx="465.4" cy="943.33" r="8.50"/><circle class="r" cx="486.5" cy="943.33" r="7.25"/><circle class="b" cx="507.6" cy="943.33" r="3.35"/><circle class="b" cx="528.7" cy="943.33" r="8.50"/><circle class="r" cx="549.8" cy="943.33" r="6.10"/><circle class="b" cx="570.9" cy="943.33" r="4.75"/><circle class="r" cx="592.0" cy="943.33" r="7.00"/><circle class="r" cx="613.1" cy="943.33" r="7.35"/><circle class="r" cx="634.2" cy="943.33" r="2.00"/><circle class="b" cx="655.3" cy="943.33" r="6.25"/><circle class="b" cx="676.4" cy="943.33" r="4.35"/><circle class="b" cx="697.5" cy="943.33" r="2.00"/><circle class="r" cx="718.6" cy="943.33" r="1.85"/><circle class="b" cx="739.7" cy="943.33" r="7.35"/><circle class="b" cx="760.8" cy="943.33" r="1.40"/><circle class="r" cx="781.9" cy="943.33" r="6.10"/><circle class="r" cx="803.0" cy="943.33" r="7.50"/><circle class="b" cx="824.1" cy="943.33" r="5.35"/><circle class="r" cx="845.2" cy="943.33" r="4.60"/><circle class="b" cx="866.3" cy="943.33" r="7.75"/><circle class="b" cx="887.4" cy="943.33" r="5.10"/><circle class="b" cx="908.5" cy="943.33" r="7.25"/><circle class="r" cx="929.6" cy="943.33" r="1.40"/><circle class="b" cx="950.7" cy="943.33" r="1.95"/><circle class="b" cx="971.8" cy="943.33" r="1.85"/><circle class="r" cx="992.9" cy="943.33" r="5.40"/><circle class="r" cx="1014.0" cy="943.33" r="3.30"/><circle class="r" cx="1035.1" cy="943.33" r="5.20"/>
<circle class="r" cx="402.1" cy="983.29" r="9.35"/><circle class="b" cx="423.2" cy="983.29" r="2.75"/><circle class="r" cx="444.3" cy="983.29" r="7.85"/><circle class="r" cx="465.4" cy="983.29" r="6.25"/><circle class="r" cx="486.5" cy="983.29" r="2.00"/><circle class="b" cx="507.6" cy="983.29" r="5.35"/><circle class="r" cx="528.7" cy="983.29" r="4.50"/><circle class="b" cx="549.8" cy="983.29" r="2.75"/><circle class="r" cx="570.9" cy="983.29" r="6.35"/><circle class="r" cx="592.0" cy="983.29" r="6.00"/><circle class="r" cx="613.1" cy="983.29" r="6.10"/><circle class="r" cx="634.2" cy="983.29" r="4.00"/><circle class="b" cx="655.3" cy="983.29" r="5.00"/><circle class="r" cx="676.4" cy="983.29" r="7.40"/><circle class="r" cx="697.5" cy="983.29" r="1.15"/><circle class="r" cx="718.6" cy="983.29" r="0.75"/><circle class="r" cx="739.7" cy="983.29" r="5.50"/><circle class="r" cx="760.8" cy="983.29" r="3.60"/><circle class="b" cx="781.9" cy="983.29" r="10.60"/><circle class="b" cx="803.0" cy="983.29" r="2.75"/><circle class="r" cx="824.1" cy="983.29" r="4.60"/><circle class="b" cx="845.2" cy="983.29" r="7.35"/><circle class="r" cx="866.3" cy="983.29" r="7.25"/><circle class="b" cx="887.4" cy="983.29" r="5.10"/><circle class="b" cx="908.5" cy="983.29" r="7.25"/><circle class="b" cx="929.6" cy="983.29" r="4.35"/><circle class="r" cx="950.7" cy="983.29" r="2.15"/><circle class="b" cx="971.8" cy="983.29" r="5.50"/><circle class="b" cx="992.9" cy="983.29" r="3.60"/><circle class="b" cx="1014.0" cy="983.29" r="2.70"/><circle class="r" cx="1035.1" cy="983.29" r="1.75"/>
<circle class="b" cx="402.1" cy="1023.25" r="4.60"/><circle class="r" cx="423.2" cy="1023.25" r="6.75"/><circle class="r" cx="444.3" cy="1023.25" r="6.10"/><circle class="b" cx="465.4" cy="1023.25" r="2.35"/><circle class="b" cx="486.5" cy="1023.25" r="3.85"/><circle class="b" cx="507.6" cy="1023.25" r="3.85"/><circle class="r" cx="528.7" cy="1023.25" r="6.75"/><circle class="r" cx="549.8" cy="1023.25" r="9.25"/><circle class="b" cx="570.9" cy="1023.25" r="4.85"/><circle class="b" cx="592.0" cy="1023.25" r="3.00"/><circle class="r" cx="613.1" cy="1023.25" r="4.35"/><circle class="b" cx="634.2" cy="1023.25" r="7.35"/><circle class="r" cx="655.3" cy="1023.25" r="5.75"/><circle class="r" cx="676.4" cy="1023.25" r="9.30"/><circle class="r" cx="697.5" cy="1023.25" r="5.75"/><circle class="r" cx="718.6" cy="1023.25" r="3.35"/><circle class="r" cx="739.7" cy="1023.25" r="7.75"/><circle class="b" cx="760.8" cy="1023.25" r="7.00"/><circle class="b" cx="781.9" cy="1023.25" r="9.85"/><circle class="r" cx="803.0" cy="1023.25" r="4.75"/><circle class="b" cx="824.1" cy="1023.25" r="9.10"/><circle class="b" cx="845.2" cy="1023.25" r="4.10"/><circle class="r" cx="866.3" cy="1023.25" r="9.10"/><circle class="r" cx="887.4" cy="1023.25" r="5.10"/><circle class="r" cx="908.5" cy="1023.25" r="7.40"/><circle class="r" cx="929.6" cy="1023.25" r="6.90"/><circle class="b" cx="950.7" cy="1023.25" r="10.20"/><circle class="b" cx="971.8" cy="1023.25" r="4.30"/><circle class="b" cx="992.9" cy="1023.25" r="5.00"/><circle class="b" cx="1014.0" cy="1023.25" r="10.10"/><circle class="b" cx="1035.1" cy="1023.25" r="9.00"/>
<circle class="r" cx="402.1" cy="1063.21" r="8.35"/><circle class="b" cx="423.2" cy="1063.21" r="4.50"/><circle class="r" cx="444.3" cy="1063.21" r="6.60"/><circle class="r" cx="465.4" cy="1063.21" r="7.75"/><circle class="r" cx="486.5" cy="1063.21" r="5.85"/><circle class="r" cx="507.6" cy="1063.21" r="9.10"/><circle class="b" cx="528.7" cy="1063.21" r="12.00"/><circle class="b" cx="549.8" cy="1063.21" r="10.00"/><circle class="b" cx="570.9" cy="1063.21" r="7.75"/><circle class="b" cx="592.0" cy="1063.21" r="8.00"/><circle class="b" cx="613.1" cy="1063.21" r="10.85"/><circle class="r" cx="634.2" cy="1063.21" r="12.25"/><circle class="r" cx="655.3" cy="1063.21" r="8.35"/><circle class="b" cx="676.4" cy="1063.21" r="5.25"/><circle class="r" cx="697.5" cy="1063.21" r="9.75"/><circle class="r" cx="718.6" cy="1063.21" r="8.25"/><circle class="b" cx="739.7" cy="1063.21" r="11.25"/><circle class="b" cx="760.8" cy="1063.21" r="8.25"/><circle class="b" cx="781.9" cy="1063.21" r="5.10"/><circle class="b" cx="803.0" cy="1063.21" r="2.25"/><circle class="r" cx="824.1" cy="1063.21" r="6.75"/><circle class="r" cx="845.2" cy="1063.21" r="5.50"/><circle class="b" cx="866.3" cy="1063.21" r="5.10"/><circle class="b" cx="887.4" cy="1063.21" r="12.60"/><circle class="b" cx="908.5" cy="1063.21" r="9.80"/><circle class="b" cx="929.6" cy="1063.21" r="4.05"/><circle class="r" cx="950.7" cy="1063.21" r="12.50"/><circle class="r" cx="971.8" cy="1063.21" r="9.20"/><circle class="b" cx="992.9" cy="1063.21" r="10.40"/><circle class="b" cx="1014.0" cy="1063.21" r="5.70"/><circle class="r" cx="1035.1" cy="1063.21" r="6.80"/>
</g>
<line class="l" x1="170" y1="1116.0" x2="1014" y2="1116.0"/>
<line class="l" x1="169.6" y1="1116.0" x2="169.6" y2="1124"/>
<text x="170.3" y="1145" class="t" text-anchor="middle" font-size="14.1" fill="#000" textLength="31.5" lengthAdjust="spacingAndGlyphs">1980</text>
<line class="l" x1="380.6" y1="1116.0" x2="380.6" y2="1124"/>
<text x="381.3" y="1145" class="t" text-anchor="middle" font-size="14.1" fill="#000" textLength="31.5" lengthAdjust="spacingAndGlyphs">1990</text>
<line class="l" x1="591.6" y1="1116.0" x2="591.6" y2="1124"/>
<text x="592.3" y="1145" class="t" text-anchor="middle" font-size="14.1" fill="#000" textLength="31.5" lengthAdjust="spacingAndGlyphs">2000</text>
<line class="l" x1="802.6" y1="1116.0" x2="802.6" y2="1124"/>
<text x="803.3" y="1145" class="t" text-anchor="middle" font-size="14.1" fill="#000" textLength="31.5" lengthAdjust="spacingAndGlyphs">2010</text>
<line class="l" x1="1013.6" y1="1116.0" x2="1013.6" y2="1124"/>
<text x="1014.3" y="1145" class="t" text-anchor="middle" font-size="14.1" fill="#000" textLength="31.5" lengthAdjust="spacingAndGlyphs">2020</text>
<text class="t" style="stroke-width:0.2" x="592.8" y="1178.8" text-anchor="middle" font-size="19.8" fill="#000" textLength="40.5" lengthAdjust="spacingAndGlyphs">Year</text>
<text class="t" style="stroke-width:0.2" transform="translate(22.3,592.5) rotate(-90)" text-anchor="middle" font-size="19.8" fill="#000" textLength="38.4" lengthAdjust="spacingAndGlyphs">Age</text>
<circle class="r" cx="120" cy="1164" r="22.15"/><text x="120" y="1170.6" text-anchor="middle" font-size="18.6" fill="#800000" stroke="#800000" stroke-width="0.35" textLength="18.2" lengthAdjust="spacingAndGlyphs">-4</text>
<circle class="r" cx="210" cy="1164" r="15.75"/><text x="209.6" y="1170.6" text-anchor="middle" font-size="18.6" fill="#800000" stroke="#800000" stroke-width="0.35" textLength="17.5" lengthAdjust="spacingAndGlyphs">-2</text>
<text x="300.2" y="1170.6" text-anchor="middle" font-size="18.6" fill="#000" stroke="#000" stroke-width="0.35" textLength="10.6" lengthAdjust="spacingAndGlyphs">0</text>
<circle class="b" cx="390" cy="1164" r="15.75"/><text x="390" y="1170.6" text-anchor="middle" font-size="18.6" fill="#000080" stroke="#000080" stroke-width="0.35" textLength="10.8" lengthAdjust="spacingAndGlyphs">2</text>
<circle class="b" cx="480" cy="1164" r="22.15"/><text x="480.3" y="1170.6" text-anchor="middle" font-size="18.6" fill="#000080" stroke="#000080" stroke-width="0.35" textLength="10.8" lengthAdjust="spacingAndGlyphs">4</text>
</g>
</svg>
</body></html>
